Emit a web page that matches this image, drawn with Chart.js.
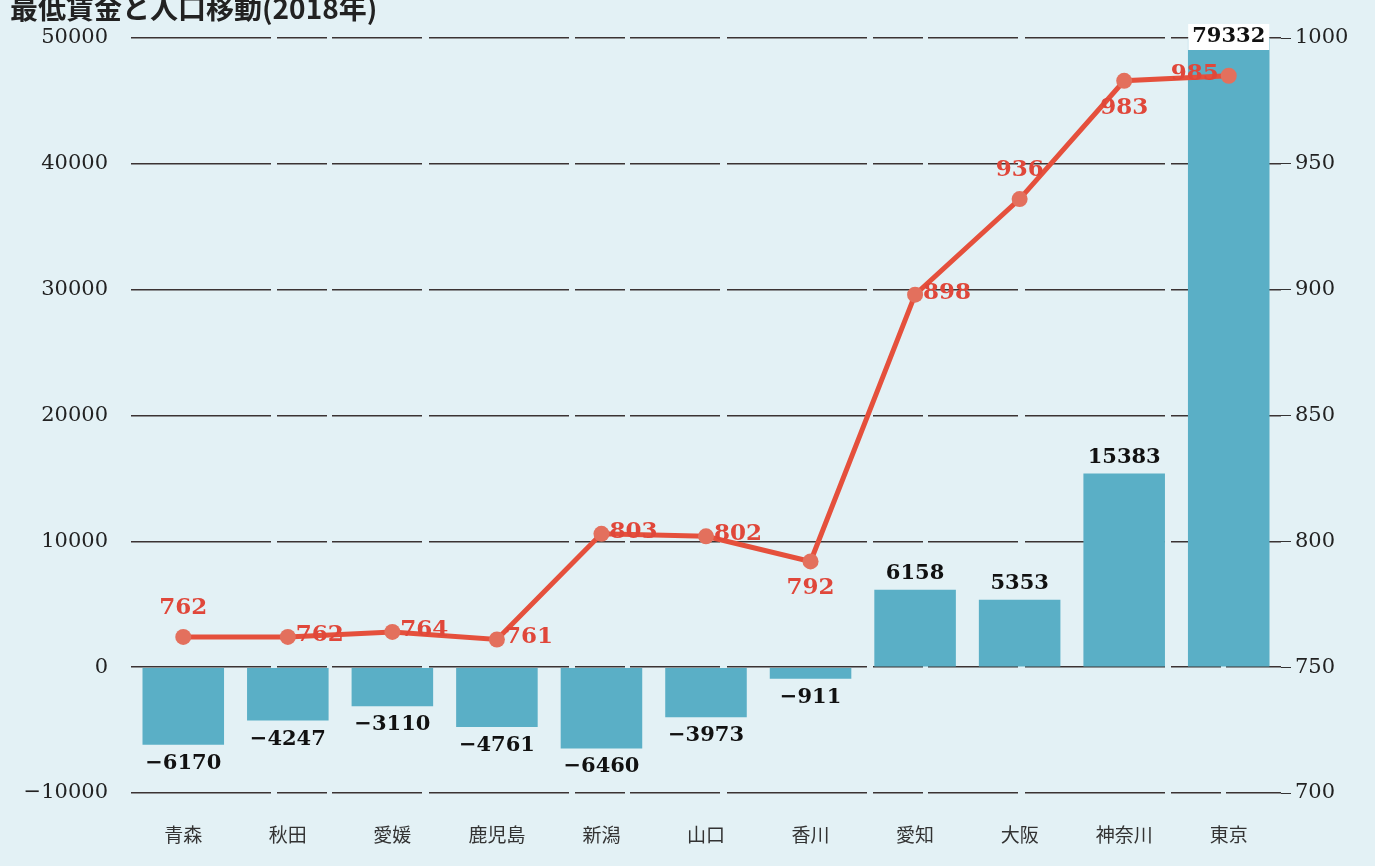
<!DOCTYPE html>
<html>
<head>
<meta charset="utf-8">
<script src="https://cdn.jsdelivr.net/npm/chart.js@4/dist/chart.umd.min.js"></script>
<style>
  body { margin: 0; background: #e3f1f5; overflow: hidden; }
  #wrap { position: relative; width: 1375px; height: 866px; }
  #title { position: absolute; left: 10px; top: -13px; font: bold 28px "Noto Sans CJK JP"; color: #222; }
  canvas { position: absolute; left: 0; top: 0; }
</style>
</head>
<body>
<div id="wrap">
  <canvas id="myChart" width="1375" height="866"></canvas>
  <div id="title">最低賃金と人口移動(2018年)</div>
</div>
<script>
var prefs = ['青森', '秋田', '愛媛', '鹿児島', '新潟', '山口', '香川', '愛知', '大阪', '神奈川', '東京'];
var migration = [-6170, -4247, -3110, -4761, -6460, -3973, -911, 6158, 5353, 15383, 79332];
var minWage = [762, 762, 764, 761, 803, 802, 792, 898, 936, 983, 985];
var leftTicks = [-10000, 0, 10000, 20000, 30000, 40000, 50000];
var rightTicks = [700, 750, 800, 850, 900, 950, 1000];

// where each wage label sits relative to its point
var wagePlace = ['top', 'right', 'right', 'right', 'right', 'right', 'bottom', 'right', 'top', 'bottom', 'left'];

function fmt(v) {
    return v < 0 ? '\u2212' + Math.abs(v) : String(v);
}

var labelPlugin = {
    id: 'labels',
    afterDatasetsDraw: function (chart) {
        var ctx = chart.ctx;
        var area = chart.chartArea;
        ctx.save();
        // bar labels
        var barMeta = chart.getDatasetMeta(0);
        ctx.font = 'bold 21px "DejaVu Serif"';
        ctx.textAlign = 'center';
        barMeta.data.forEach(function (bar, i) {
            var v = migration[i];
            var txt = fmt(v);
            if (bar.y < area.top) {
                var w = ctx.measureText(txt).width;
                ctx.fillStyle = '#ffffff';
                ctx.fillRect(bar.x - w / 2 - 4, area.top - 14, w + 8, 26);
                ctx.fillStyle = '#111';
                ctx.textBaseline = 'middle';
                ctx.fillText(txt, bar.x, area.top - 1);
            } else if (v >= 0) {
                ctx.fillStyle = '#111';
                ctx.textBaseline = 'bottom';
                ctx.fillText(txt, bar.x, bar.y - 6);
            } else {
                ctx.fillStyle = '#111';
                ctx.textBaseline = 'top';
                ctx.fillText(txt, bar.x, bar.y + 8);
            }
        });
        // wage labels
        var lineMeta = chart.getDatasetMeta(1);
        ctx.font = 'bold 23px "DejaVu Serif"';
        ctx.fillStyle = '#e0473a';
        lineMeta.data.forEach(function (pt, i) {
            var txt = String(minWage[i]);
            var p = wagePlace[i];
            ctx.textBaseline = 'middle';
            if (p === 'top') {
                ctx.textAlign = 'center';
                ctx.fillText(txt, pt.x, pt.y - 29);
            } else if (p === 'bottom') {
                ctx.textAlign = 'center';
                ctx.fillText(txt, pt.x, pt.y + 27);
            } else if (p === 'right') {
                ctx.textAlign = 'left';
                ctx.fillText(txt, pt.x + 8, pt.y - 2);
            } else {
                ctx.textAlign = 'right';
                ctx.fillText(txt, pt.x - 10, pt.y - 2);
            }
        });
        ctx.restore();
    }
};

window.onload = function () {
    var ctx = document.getElementById('myChart').getContext('2d');
    new Chart(ctx, {
        type: 'bar',
        data: {
            labels: prefs,
            datasets: [{
                type: 'bar',
                label: '人口移動',
                data: migration,
                yAxisID: 'y',
                backgroundColor: '#5aafc6',
                barPercentage: 0.78,
                categoryPercentage: 1,
                order: 2
            },
            {
                type: 'line',
                label: '最低賃金',
                data: minWage,
                yAxisID: 'y1',
                borderColor: '#e5503c',
                borderWidth: 5,
                pointRadius: 8,
                pointBackgroundColor: '#e3705d',
                pointBorderWidth: 0,
                tension: 0,
                order: 1
            }]
        },
        options: {
            responsive: false,
            animation: false,
            layout: { padding: { top: 38, left: 0, right: 0, bottom: 0 } },
            plugins: {
                legend: { display: false },
                tooltip: { enabled: false }
            },
            scales: {
                x: {
                    grid: { display: false },
                    border: { display: false },
                    ticks: {
                        font: { family: '"Noto Sans CJK JP"', size: 19 },
                        color: '#333',
                        padding: 22,
                        maxRotation: 0
                    },
                    afterFit: function (s) { s.height = 73; }
                },
                y: {
                    position: 'left',
                    min: -10000,
                    max: 50000,
                    afterBuildTicks: function (s) { s.ticks = leftTicks.map(function (v) { return { value: v }; }); },
                    grid: {
                        color: '#3b3333',
                        lineWidth: 1.5,
                        drawTicks: false
                    },
                    border: { display: false, dash: [140, 6, 50, 5, 90, 7] },
                    ticks: {
                        font: { family: '"DejaVu Serif"', size: 21 },
                        color: '#222',
                        padding: 23,
                        callback: function (v) { return fmt(v); }
                    },
                    afterFit: function (s) { s.width = 131; }
                },
                y1: {
                    position: 'right',
                    min: 700,
                    max: 1000,
                    afterBuildTicks: function (s) { s.ticks = rightTicks.map(function (v) { return { value: v }; }); },
                    grid: {
                        drawOnChartArea: false,
                        color: '#333',
                        tickLength: 10
                    },
                    border: { display: false },
                    ticks: {
                        font: { family: '"DejaVu Serif"', size: 21 },
                        color: '#222',
                        padding: 4,
                        callback: function (v) { return String(v); }
                    },
                    afterFit: function (s) { s.width = 94; }
                }
            }
        },
        plugins: [labelPlugin]
    });
}
</script>
</body>
</html>
